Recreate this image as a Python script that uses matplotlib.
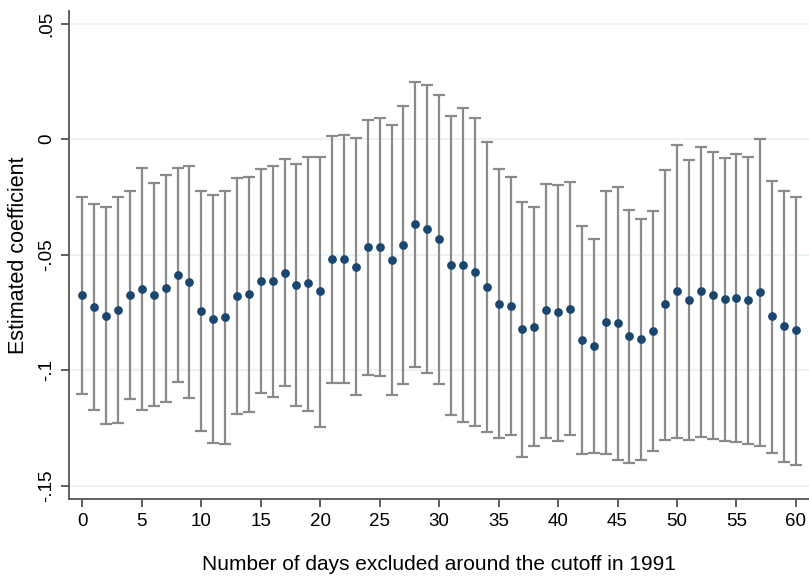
import matplotlib
matplotlib.use("Agg")
import matplotlib.pyplot as plt
import numpy as np

plt.rcParams['font.family'] = ['Liberation Sans', 'DejaVu Sans']

days = list(range(0, 61))
coef = [-0.0676, -0.0725, -0.0764, -0.0738, -0.0675, -0.0647, -0.0673, -0.0646, -0.0587, -0.0618,
        -0.0744, -0.0777, -0.0770, -0.0679, -0.0671, -0.0613, -0.0614, -0.0577, -0.0630, -0.0624,
        -0.0659, -0.0520, -0.0517, -0.0551, -0.0468, -0.0465, -0.0523, -0.0457, -0.0368, -0.0387,
        -0.0432, -0.0545, -0.0545, -0.0574, -0.0640, -0.0712, -0.0720, -0.0821, -0.0811, -0.0741,
        -0.0750, -0.0734, -0.0870, -0.0893, -0.0792, -0.0796, -0.0851, -0.0866, -0.0831, -0.0715,
        -0.0655, -0.0695, -0.0659, -0.0676, -0.0692, -0.0686, -0.0695, -0.0660, -0.0767, -0.0809,
        -0.0825]
upper = [-0.0249, -0.0280, -0.0295, -0.0249, -0.0225, -0.0126, -0.0189, -0.0156, -0.0123, -0.0117,
         -0.0225, -0.0240, -0.0223, -0.0169, -0.0163, -0.0129, -0.0117, -0.0084, -0.0108, -0.0075,
         -0.0078, 0.0012, 0.0019, 0.0006, 0.0082, 0.0092, 0.0062, 0.0145, 0.0247, 0.0236,
         0.0192, 0.0100, 0.0133, 0.0094, -0.0013, -0.0130, -0.0162, -0.0272, -0.0295, -0.0192,
         -0.0197, -0.0186, -0.0376, -0.0432, -0.0225, -0.0205, -0.0305, -0.0344, -0.0312, -0.0132,
         -0.0023, -0.0088, -0.0035, -0.0055, -0.0082, -0.0062, -0.0077, 0.0001, -0.0182, -0.0225,
         -0.0249]
lower = [-0.1103, -0.1172, -0.1234, -0.1230, -0.1124, -0.1172, -0.1156, -0.1139, -0.1053, -0.1121,
         -0.1264, -0.1315, -0.1321, -0.1188, -0.1179, -0.1098, -0.1114, -0.1069, -0.1155, -0.1176,
         -0.1246, -0.1056, -0.1056, -0.1108, -0.1019, -0.1025, -0.1108, -0.1059, -0.0984, -0.1012,
         -0.1058, -0.1195, -0.1225, -0.1243, -0.1267, -0.1295, -0.1279, -0.1374, -0.1329, -0.1295,
         -0.1306, -0.1282, -0.1364, -0.1357, -0.1361, -0.1387, -0.1402, -0.1389, -0.1350, -0.1301,
         -0.1292, -0.1302, -0.1288, -0.1299, -0.1305, -0.1312, -0.1318, -0.1328, -0.1357, -0.1396,
         -0.1408]

x_ticks = [0, 5, 10, 15, 20, 25, 30, 35, 40, 45, 50, 55, 60]
y_ticks = [0.05, 0, -0.05, -0.1, -0.15]
y_ticklabels = ['.05', '0', '-.05', '-.1', '-.15']

W, H = 809, 580
fig = plt.figure(figsize=(W / 100, H / 100), dpi=100)
left, right, top, bottom = 69.3, 809, 11, 498.7
ax = fig.add_axes([left / W, 1 - bottom / H, (right - left) / W, (bottom - top) / H])

d = np.array(days)
c = np.array(coef)
u = np.array(upper)
l = np.array(lower)

ax.errorbar(d, c, yerr=[c - l, u - c], fmt='none', ecolor='#8a8a8a', elinewidth=1.6,
            capsize=4, capthick=1.6, zorder=2)
ax.plot(d, c, 'o', color='#1a476f', markersize=6.3, markeredgewidth=0, zorder=3)

ax.set_xlim(-1.1, 61.1)
ax.set_ylim(-0.1556, 0.0555)
ax.set_yticks(y_ticks)
ax.set_yticklabels(y_ticklabels, rotation=90, va='center')
ax.set_xticks(x_ticks)
ax.grid(axis='y', color='#eaf2f3', linewidth=1.3, zorder=0)
ax.set_axisbelow(True)

for s in ['top', 'right']:
    ax.spines[s].set_visible(False)
for s in ['left', 'bottom']:
    ax.spines[s].set_color('#555555')
    ax.spines[s].set_linewidth(1.3)

ax.tick_params(axis='both', direction='out', length=6, width=1.1, color='#333333',
               labelsize=13.5, labelcolor='black', pad=4)
ax.set_xlabel('Number of days excluded around the cutoff in 1991', fontsize=15, labelpad=18)
ax.set_ylabel('Estimated coefficient', fontsize=15.5, labelpad=7)

fig.savefig('out.png', dpi=100)
